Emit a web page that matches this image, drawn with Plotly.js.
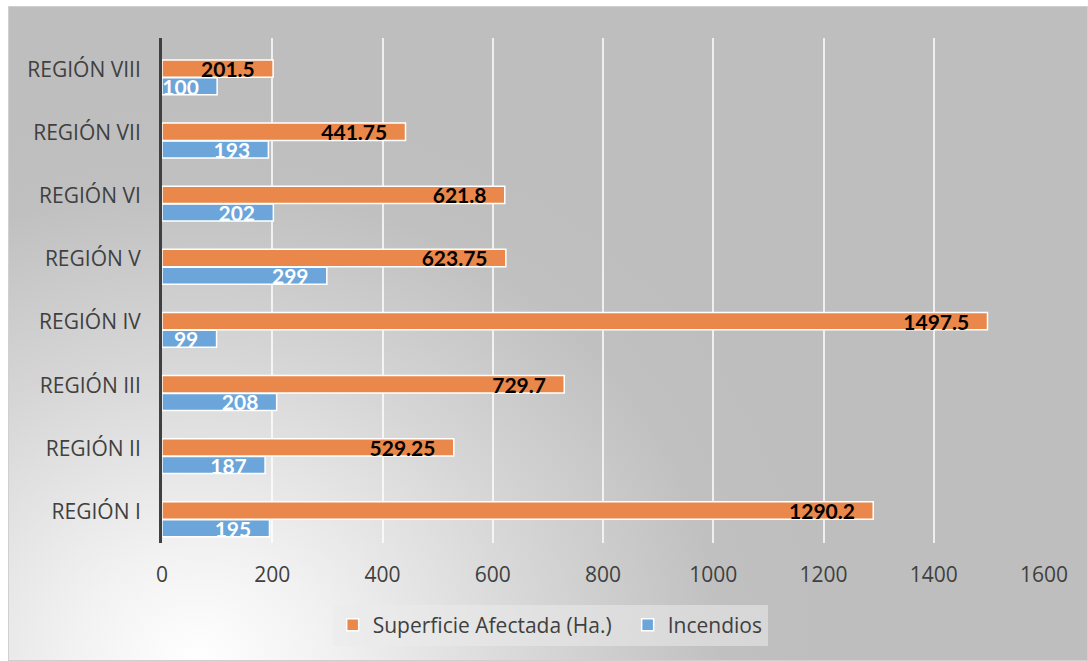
<!DOCTYPE html>
<html>
<head>
<meta charset="utf-8">
<script src="https://cdn.plot.ly/plotly-3.0.1.min.js"></script>
<style>
html,body{margin:0;padding:0;background:#ffffff;width:1088px;height:661px;overflow:hidden;}
#bg{position:absolute;left:8px;top:6px;width:1080px;height:655px;box-sizing:border-box;border:1px solid #d0d0d0;
 background:radial-gradient(ellipse 620px 560px at 190px 655px,#ffffff 0%,#f2f2f2 20%,#d6d6d6 55%,#c0c0c0 85%,#bebebe 100%);}
#chart{position:absolute;left:0;top:0;width:1088px;height:661px;}
</style>
</head>
<body>
<div id="bg"></div>
<div id="chart"></div>
<script>
const categories = ["REGIÓN I","REGIÓN II","REGIÓN III","REGIÓN IV","REGIÓN V","REGIÓN VI","REGIÓN VII","REGIÓN VIII"];
const superficie = [1290.2, 529.25, 729.7, 1497.5, 623.75, 621.8, 441.75, 201.5];
const incendios = [195, 187, 208, 99, 299, 202, 193, 100];
const xTicks = [0,200,400,600,800,1000,1200,1400,1600];

const pad = "\u00a0\u00a0\u00a0";
const traces = [
  {
    type:"bar", orientation:"h", name:"Incendios",
    y:categories, x:incendios,
    offset:-0.40, width:0.27,
    marker:{color:"#6BA5D9", line:{color:"#ffffff", width:1.5}},
    text:incendios.map(v=>String(v)), texttemplate:"%{text}"+pad,
    textposition:"inside", insidetextanchor:"end", constraintext:"none",
    textfont:{family:"Lato", size:21, color:"#ffffff", weight:"bold"},
    hoverinfo:"x+y"
  },
  {
    type:"bar", orientation:"h", name:"Superficie Afectada (Ha.)",
    y:categories, x:superficie,
    offset:-0.122, width:0.274,
    legendwidth:250,
    marker:{color:"#E9884A", line:{color:"#ffffff", width:1.5}},
    text:superficie.map(v=>String(v)), texttemplate:"%{text}"+pad,
    textposition:"inside", insidetextanchor:"end", constraintext:"none",
    textfont:{family:"Lato", size:21, color:"#000000", weight:"bold"},
    hoverinfo:"x+y"
  }
];

const layout = {
  width:1088, height:661,
  paper_bgcolor:"rgba(0,0,0,0)", plot_bgcolor:"rgba(0,0,0,0)",
  margin:{l:162, r:44, t:38, b:118},
  font:{family:"Open Sans", color:"#404040", size:21},
  barmode:"group",
  showlegend:true,
  legend:{orientation:"h", x:0.1935, xanchor:"left", y:-0.122, yanchor:"top",
    traceorder:"reversed", bgcolor:"rgba(235,235,235,0.55)", borderwidth:0,
    font:{family:"Open Sans", size:21, color:"#404040"}},
  xaxis:{range:[0,1600], tickvals:xTicks, ticktext:xTicks.map(String),
    showgrid:true, gridcolor:"rgba(255,255,255,0.75)", gridwidth:2,
    zeroline:false, showline:false, ticks:"", ticklabelstandoff:17,
    tickfont:{family:"Open Sans", size:21, color:"#404040"}, fixedrange:true},
  yaxis:{type:"category", categoryorder:"array", categoryarray:categories,
    showgrid:false, zeroline:false, showline:true, linecolor:"#404040", linewidth:3,
    ticks:"", ticklabelstandoff:14,
    tickfont:{family:"Open Sans", size:21, color:"#404040"}, fixedrange:true}
};

Plotly.newPlot("chart", traces, layout, {displayModeBar:false, staticPlot:true});
</script>
</body>
</html>
